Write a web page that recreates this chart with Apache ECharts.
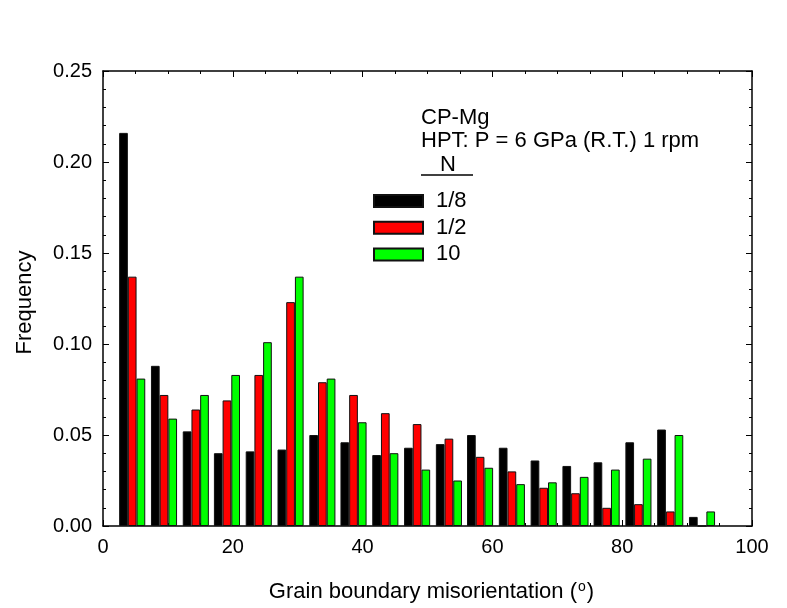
<!DOCTYPE html>
<html>
<head>
<meta charset="utf-8">
<script src="https://cdn.jsdelivr.net/npm/echarts@6/dist/echarts.min.js"></script>
<style>
  html, body { margin: 0; padding: 0; background: #fff; }
  #chart { width: 787px; height: 608px; }
</style>
</head>
<body>
<div id="chart"></div>
<script>
  /* bin centres (deg) */
  var angles = [4.5, 9.4, 14.3, 19.1, 24.0, 28.9, 33.8, 38.6, 43.5, 48.4,
                53.3, 58.1, 63.0, 67.9, 72.8, 77.6, 82.5, 87.4, 92.3];
  var seriesNames = ['1/8', '1/2', '10'];
  var freqN18 = [0.216, 0.088, 0.052, 0.040, 0.041, 0.042, 0.050, 0.046, 0.039, 0.043,
                 0.045, 0.050, 0.043, 0.036, 0.033, 0.035, 0.046, 0.053, 0.005];
  var freqN12 = [0.137, 0.072, 0.064, 0.069, 0.083, 0.123, 0.079, 0.072, 0.062, 0.056,
                 0.048, 0.038, 0.030, 0.021, 0.018, 0.010, 0.012, 0.008, 0.000];
  var freqN10 = [0.081, 0.059, 0.072, 0.083, 0.101, 0.137, 0.081, 0.057, 0.040, 0.031,
                 0.025, 0.032, 0.023, 0.024, 0.027, 0.031, 0.037, 0.050, 0.008];
  var colors = ['#000000', '#ff0000', '#00ff00'];
  var xTicks = [0, 20, 40, 60, 80, 100];
  var yTicks = [0, 0.05, 0.10, 0.15, 0.20, 0.25];

  var font = "'Liberation Sans', Arial, sans-serif";

  function pairs(vals) {
    return vals.map(function (v, i) { return [angles[i], v]; });
  }

  var myChart = echarts.init(document.getElementById('chart'));

  var axisBase = {
    axisLine: { show: true, onZero: false, lineStyle: { color: '#000', width: 1.5 } },
    axisTick: { show: true, inside: true, length: 6, lineStyle: { color: '#000' } },
    minorTick: { show: true, length: 3, lineStyle: { color: '#000' } },
    splitLine: { show: false }
  };

  myChart.setOption({
    animation: false,
    grid: { left: 103, right: 35, top: 71, bottom: 81 },
    xAxis: [
      Object.assign({}, axisBase, {
        type: 'value', position: 'bottom',
        min: xTicks[0], max: xTicks[xTicks.length - 1], interval: 20,
        minorTick: Object.assign({}, axisBase.minorTick, { splitNumber: 4 }),
        axisLabel: { color: '#000', fontSize: 20, fontFamily: font, margin: 11 },
        name: 'Grain boundary misorientation ({sup|o})',
        nameLocation: 'middle', nameGap: 54,
        nameTextStyle: {
          color: '#000', fontSize: 22, fontFamily: font, padding: [0, 0, 0, 8],
          rich: { sup: { fontSize: 14, verticalAlign: 'top', padding: [0, 1, 10, 1], color: '#000', fontFamily: font } }
        }
      }),
      Object.assign({}, axisBase, {
        type: 'value', position: 'top',
        min: xTicks[0], max: xTicks[xTicks.length - 1], interval: 20,
        minorTick: Object.assign({}, axisBase.minorTick, { splitNumber: 4 }),
        axisLabel: { show: false }
      })
    ],
    yAxis: [
      Object.assign({}, axisBase, {
        type: 'value', position: 'left',
        min: yTicks[0], max: yTicks[yTicks.length - 1], interval: 0.05,
        minorTick: Object.assign({}, axisBase.minorTick, { splitNumber: 5 }),
        axisLabel: {
          color: '#000', fontSize: 20, fontFamily: font, margin: 11,
          formatter: function (v) { return v.toFixed(2); }
        },
        name: 'Frequency', nameLocation: 'middle', nameGap: 67, nameRotate: 90,
        nameTextStyle: { color: '#000', fontSize: 22, fontFamily: font, padding: [0, 8, 0, 0] }
      }),
      Object.assign({}, axisBase, {
        type: 'value', position: 'right',
        min: yTicks[0], max: yTicks[yTicks.length - 1], interval: 0.05,
        minorTick: Object.assign({}, axisBase.minorTick, { splitNumber: 5 }),
        axisLabel: { show: false }
      })
    ],
    legend: {
      data: seriesNames,
      orient: 'vertical',
      left: 368, top: 185,
      itemWidth: 49, itemHeight: 12, itemGap: 4.7,
      icon: 'rect',
      textStyle: { color: '#000', fontSize: 22, fontFamily: font, padding: [0, 0, 0, 8] }
    },
    graphic: [
      { type: 'text', x: 421, y: 118, style: { text: 'CP-Mg', fill: '#000', font: '22px ' + font, verticalAlign: 'middle' } },
      { type: 'text', x: 421, y: 141, style: { text: 'HPT: P = 6 GPa (R.T.) 1 rpm', fill: '#000', font: '22px ' + font, verticalAlign: 'middle' } },
      { type: 'text', x: 440, y: 165, style: { text: 'N', fill: '#000', font: '22px ' + font, verticalAlign: 'middle' } },
      { type: 'line', shape: { x1: 421, y1: 175, x2: 473, y2: 175 }, style: { stroke: '#000', lineWidth: 1.5 } }
    ],
    series: [
      { name: seriesNames[0], type: 'bar', data: pairs(freqN18) },
      { name: seriesNames[1], type: 'bar', data: pairs(freqN12) },
      { name: seriesNames[2], type: 'bar', data: pairs(freqN10) }
    ].map(function (s, i) {
      s.barWidth = 8.7;
      s.barGap = '0%';
      s.itemStyle = { color: colors[i], borderColor: '#111', borderWidth: 1 };
      return s;
    })
  });
</script>
</body>
</html>
